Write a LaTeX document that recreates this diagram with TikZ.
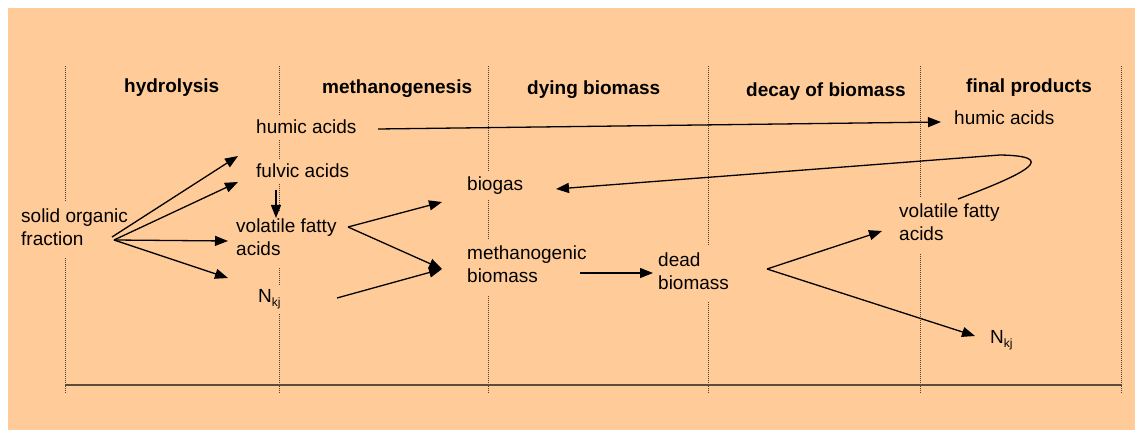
\documentclass[tikz,border=0pt]{standalone}
\usepackage{fontspec}
\setmainfont{Liberation Sans}
\usetikzlibrary{arrows.meta}
\definecolor{bg}{HTML}{FFCC99}
\definecolor{axiscol}{HTML}{5C4C3C}
\definecolor{dotcol}{HTML}{4A4035}
\newcommand\twoline[2]{\begin{tabular}[t]{@{}l@{}}#1\\#2\end{tabular}}
\newcommand\Nkj{N\raisebox{-4pt}{\fontsize{12}{12}\selectfont kj}}
\begin{document}
\begin{tikzpicture}[x=1pt,y=-1pt,
  txt/.style={fill=bg, inner sep=5pt, anchor=base west, font=\fontsize{19}{23}\selectfont},
  hdr/.style={anchor=base west, inner sep=0pt, font=\fontsize{19}{23}\selectfont\bfseries},
  divider/.style={draw=dotcol, line width=1pt, dash pattern=on 1pt off 1pt},
  arr/.style={draw=black, line width=1.3pt, -{Triangle[length=13pt,width=10pt]}},
]
\useasboundingbox (0,0) rectangle (1135,430);
\fill[bg] (8,8) rectangle (1135,430);
% column dividers
\foreach \i/\x in {1/65.5,2/279.5,3/488.5,4/708.5,5/920.5,6/1121.5}{
  \coordinate (dt\i) at (\x,66);
  \coordinate (db\i) at (\x,393);
  \draw[divider] (dt\i) -- (db\i);
}
% time axis
\coordinate (axl) at (65,385);
\coordinate (axr) at (1122,385);
\draw[draw=axiscol, line width=2pt] (axl) -- (axr);
% headers
\node[hdr] (h1) at (124,93) {hydrolysis};
\node[hdr] (h2) at (322,94) {methanogenesis};
\node[hdr] (h3) at (527,95) {dying biomass};
\node[hdr] (h4) at (746,97) {decay of biomass};
\node[hdr] (h5) at (966,93) {final products};
% text nodes
\node[txt] (sof) at (16,223) {\twoline{solid organic}{fraction}};
\node[txt] (hum) at (251,134) {humic acids};
\node[txt] (ful) at (251,178) {fulvic acids};
\node[txt] (vfa) at (231,233) {\twoline{volatile fatty}{acids}};
\node[txt] (nkj) at (253,303) {\Nkj};
\node[txt] (bio) at (462,191) {biogas};
\node[txt] (met) at (462,260) {\twoline{methanogenic}{biomass}};
\node[txt] (dead) at (653,267) {\twoline{dead}{biomass}};
\node[txt] (humf) at (949,125) {humic acids};
\node[txt] (vfaf) at (894,218) {\twoline{volatile fatty}{acids}};
\node[txt] (nkjf) at (985,343) {\Nkj};
% connector ends
\coordinate (sofA) at (112,237);
\coordinate (sofB) at (114,240);
\coordinate (humT) at (238,156);
\coordinate (fulT) at (238,182);
\coordinate (vfaT) at (228,241);
\coordinate (nkjT) at (228,278);
\coordinate (fulS) at (276,190);
\coordinate (vfaD) at (276,218);
\coordinate (vfaS) at (348,227);
\coordinate (bioT) at (442,202);
\coordinate (metT) at (442,269);
\coordinate (nkjS) at (337,298);
\coordinate (humS) at (378,129);
\coordinate (humfT) at (941,122);
\coordinate (metS) at (580,273);
\coordinate (deadT) at (653,273);
\coordinate (deadS) at (767,269);
\coordinate (vfafT) at (882,231);
\coordinate (nkjfT) at (975,336);
\coordinate (vfafS) at (958,199);
\coordinate (loop) at (1000,155);
\coordinate (bioR) at (556,189);
% connectors
\draw[arr] (sofA) -- (humT);
\draw[arr] (sofB) -- (fulT);
\draw[arr] (sofB) -- (vfaT);
\draw[arr] (sofB) -- (nkjT);
\draw[arr] (fulS) -- (vfaD);
\draw[arr] (vfaS) -- (bioT);
\draw[arr] (vfaS) -- (metT);
\draw[arr] (nkjS) -- (metT);
\draw[arr] (humS) -- (humfT);
\draw[arr] (metS) -- (deadT);
\draw[arr] (deadS) -- (vfafT);
\draw[arr] (deadS) -- (nkjfT);
\draw[arr] (vfafS) .. controls (1030,172) and (1058,156) .. (loop) -- (bioR);
\end{tikzpicture}
\end{document}
